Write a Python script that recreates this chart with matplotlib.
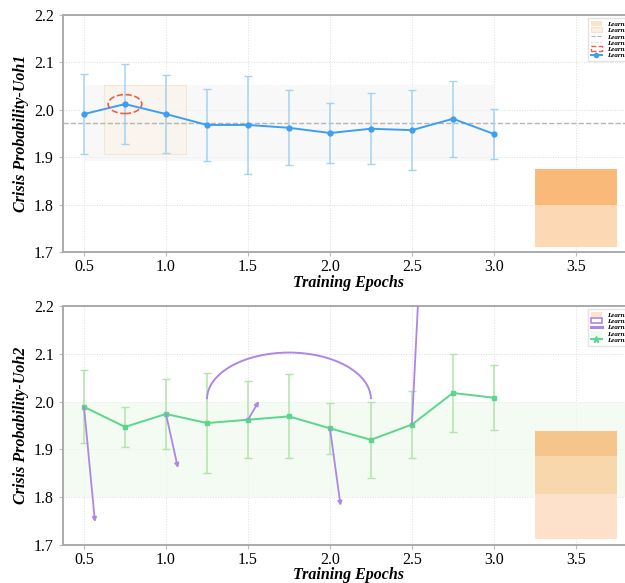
import numpy as np
import matplotlib
matplotlib.use("Agg")
import matplotlib.pyplot as plt
from matplotlib.patches import Rectangle, Ellipse, Arc, FancyArrowPatch
from matplotlib.lines import Line2D

plt.rcParams['font.family'] = ['Liberation Serif', 'DejaVu Serif']

# training checkpoints
epochs = [0.5, 0.75, 1.0, 1.25, 1.5, 1.75, 2.0, 2.25, 2.5, 2.75, 3.0]

# Uoh1 crisis probability
uoh1 = [1.991, 2.012, 1.991, 1.968, 1.968, 1.962, 1.951, 1.960, 1.957, 1.981, 1.949]
uoh1_err = [0.084, 0.085, 0.082, 0.076, 0.104, 0.079, 0.064, 0.075, 0.085, 0.080, 0.053]

# Uoh2 crisis probability
uoh2 = [1.989, 1.947, 1.974, 1.955, 1.962, 1.969, 1.944, 1.920, 1.952, 2.018, 2.008]
uoh2_err = [0.076, 0.042, 0.074, 0.105, 0.080, 0.088, 0.053, 0.080, 0.070, 0.082, 0.068]

# stacked summary blocks at epoch 3.5 (segment edges)
block1_edges = [1.71, 1.80, 1.875]
block1_colors = ['#fdd8b4', '#f9b979']
block2_edges = [1.712, 1.806, 1.887, 1.939]
block2_colors = ['#fde1ca', '#f9d7ad', '#f6c58b']

# highlighted regions
band1 = (0.5, 3.0, 1.892, 2.052)
window1 = (0.625, 1.125, 1.907, 2.052)
band2 = (1.80, 2.0)

# arrows on the Uoh2 curve: start index -> end point
arrow_starts = [0, 2, 4, 6, 8]
arrow_ends = [(0.567, 1.748), (1.073, 1.861), (1.567, 2.001), (2.065, 1.782), (2.58, 2.5)]

xticks = [0.5, 1.0, 1.5, 2.0, 2.5, 3.0, 3.5]
yticks = [1.7, 1.8, 1.9, 2.0, 2.1, 2.2]

fig = plt.figure(figsize=(6.25, 5.83), dpi=100)
# axes run past the right edge of the canvas on purpose
ax1 = fig.add_axes([0.1008, 0.5678, 0.987, 0.4065])
ax2 = fig.add_axes([0.1008, 0.0652, 0.987, 0.4100])

leg_font = {'family': 'Liberation Serif', 'weight': 'bold', 'style': 'italic', 'size': 5}
lab_font = {'family': 'Liberation Serif', 'weight': 'bold', 'style': 'italic', 'size': 11.5}


def style_axes(ax, ylabel, xpad):
    ax.set_xlim(0.372, 4.134)
    ax.set_ylim(1.7, 2.2)
    ax.set_xticks(xticks)
    ax.set_yticks(yticks)
    ax.set_xticklabels([f"{t:.1f}" for t in xticks])
    ax.set_yticklabels([f"{t:.1f}" for t in yticks])
    ax.tick_params(labelsize=11.5, length=3, color='#bbbbbb')
    ax.tick_params(axis='x', pad=2)
    ax.grid(True, linestyle=':', color='#dddddd', linewidth=0.7)
    ax.set_axisbelow(True)
    for s in ax.spines.values():
        s.set_color('#aaaaaa')
        s.set_linewidth(1.4)
    ax.set_xlabel('Training Epochs', fontdict=lab_font, labelpad=xpad)
    ax.xaxis.label.set_x(0.4635)
    ax.set_ylabel(ylabel, fontdict=lab_font, labelpad=4)


# ---- top panel ----
style_axes(ax1, 'Crisis Probability-Uoh1', 0)
mean1 = np.mean(uoh1)
ax1.add_patch(Rectangle((band1[0], band1[2]), band1[1] - band1[0], band1[3] - band1[2],
                        facecolor='#f3f3f3', alpha=0.55, edgecolor='none', zorder=1))
ax1.add_patch(Rectangle((window1[0], window1[2]), window1[1] - window1[0], window1[3] - window1[2],
                        facecolor='#fbf1e6', alpha=0.5, edgecolor='#f7d6b6', linewidth=0.8, zorder=1))
ax1.axhline(mean1, color='#b5b5b5', linestyle='--', linewidth=1.0, zorder=2)
for i in range(len(block1_colors)):
    ax1.bar(3.5, block1_edges[i + 1] - block1_edges[i], width=0.5, bottom=block1_edges[i],
            color=block1_colors[i], edgecolor='none', zorder=2)
ax1.errorbar(epochs, uoh1, yerr=uoh1_err, color='#3d9ff2', ecolor='#a3d3f1', elinewidth=1.1,
             capsize=3, capthick=1, marker='o', markersize=3.5, linewidth=1.4, zorder=4)
ax1.add_patch(Ellipse((epochs[1], uoh1[1]), 0.205, 0.04, facecolor='none',
                      edgecolor='#e8604c', linestyle='--', linewidth=1.2, zorder=5))

h1 = [Rectangle((0, 0), 1, 1, facecolor='#fde3cc', edgecolor='none'),
      Rectangle((0, 0), 1, 1, facecolor='#fbefe2', edgecolor='#f5d9bc', linewidth=0.5),
      Line2D([], [], color='#b5b5b5', linestyle='--', linewidth=0.8),
      Line2D([], [], color='#cccccc', linestyle=':', linewidth=0.8),
      Ellipse((0, 0), 1, 1, facecolor='none', edgecolor='#e8604c', linestyle='--'),
      Line2D([], [], color='#3d9ff2', marker='o', markersize=3, linewidth=1.4)]
l1 = ['Learning-rate warmup', 'Learning window', 'Learning mean', 'Learning plateau band',
      'Learning peak', 'Learning curve Uoh1']
ax1.legend(h1, l1, loc='upper right', prop=leg_font, labelspacing=0.05, handlelength=1.6,
           borderpad=0.4, frameon=True, edgecolor='#dddddd', fancybox=False)

# ---- bottom panel ----
style_axes(ax2, 'Crisis Probability-Uoh2', -0.5)
ax2.axhspan(band2[0], band2[1], facecolor='#eefaee', alpha=0.7, edgecolor='none', zorder=1)
for i in range(len(block2_colors)):
    ax2.bar(3.5, block2_edges[i + 1] - block2_edges[i], width=0.5, bottom=block2_edges[i],
            color=block2_colors[i], edgecolor='none', zorder=2)
ax2.errorbar(epochs, uoh2, yerr=uoh2_err, color='#5bd68c', ecolor='#b2e4a8', elinewidth=1.1,
             capsize=3, capthick=1, marker='s', markersize=3, linewidth=1.4, zorder=4)
ax2.add_patch(Arc((1.75, 2.005), 1.0, 0.195, theta1=0, theta2=180,
                  edgecolor='#ad86e6', linewidth=1.4, zorder=5))
for i, end in zip(arrow_starts, arrow_ends):
    ax2.add_patch(FancyArrowPatch((epochs[i], uoh2[i]), end, arrowstyle='-|>',
                                  mutation_scale=6, color='#ad86e6', linewidth=1.3,
                                  shrinkA=0, shrinkB=0, zorder=5))

h2 = [Rectangle((0, 0), 1, 1, facecolor='#fde3cc', edgecolor='none'),
      Rectangle((0, 0), 1, 1, facecolor='none', edgecolor='#ad86e6', linewidth=1.2),
      Line2D([], [], color='#ad86e6', linewidth=2.2),
      Rectangle((0, 0), 1, 1, facecolor='#eefaee', edgecolor='none'),
      Line2D([], [], color='#5bd68c', marker='*', markersize=5, linewidth=1.4)]
l2 = ['Learning-rate warmup', 'Learning regime span', 'Learning shift',
      'Learning stable band', 'Learning curve Uoh2']
ax2.legend(h2, l2, loc='upper right', prop=leg_font, labelspacing=0.05, handlelength=1.6,
           borderpad=0.4, frameon=True, edgecolor='#dddddd', fancybox=False)

fig.savefig('out.png', dpi=100)
